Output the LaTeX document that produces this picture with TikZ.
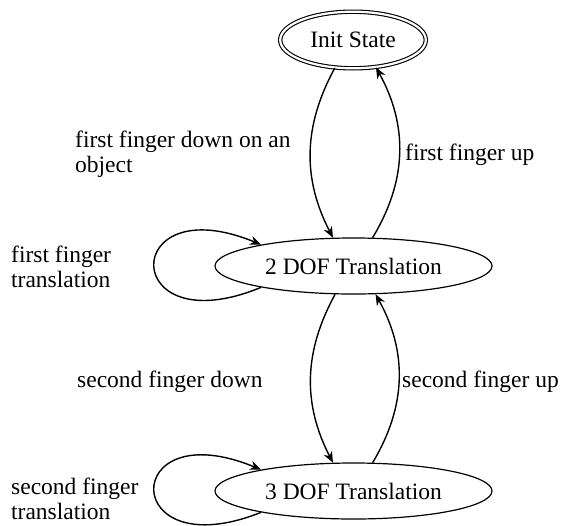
\documentclass[tikz,border=0pt]{standalone}
\usepackage{fontspec}
\setmainfont{Liberation Serif}
\newfontfamily\tnr{Liberation Serif}
\usetikzlibrary{shapes.geometric,arrows.meta,calc}
\begin{document}
\begin{tikzpicture}[x=1pt,y=-1pt,
  every node/.style={font=\tnr\fontsize{23.5}{25}\selectfont},
  statebox/.style={draw, ellipse, line width=1.2pt, inner sep=0pt, minimum width=277pt, minimum height=56pt},
  initbox/.style={draw, ellipse, line width=1.1pt, double, double distance=2.2pt, inner sep=0pt, minimum width=145.6pt, minimum height=56.6pt},
  lbl/.style={anchor=base west, align=left, inner sep=0pt},
  edge/.style={line width=1.4pt, -{Stealth[length=11pt,width=9pt,inset=3.5pt]}}]
\useasboundingbox (0,0) rectangle (564,525);
\node[initbox] (init) at (353,40) {Init State};
\node[statebox] (two) at (353.5,266) {2 DOF Translation};
\node[statebox] (three) at (353.5,491) {3 DOF Translation};

\draw[edge] (init.-123.3) to[bend right=28] (two.126.5);
\draw[edge] (two.56.3) to[bend right=30] (init.-50.8);
\draw[edge] (two.-123.7) to[bend right=28] (three.126.5);
\draw[edge] (three.56.3) to[bend right=30] (two.-52.1);

\draw[edge] (two.193.7) .. controls ($(two.center)+(-234.5,80)$) and ($(two.center)+(-234.5,-80)$) .. (two.167.1);
\draw[edge] (three.193.7) .. controls ($(three.center)+(-234.5,78)$) and ($(three.center)+(-234.5,-80)$) .. (three.167.1);

\node[lbl] (l1) at (75,172) {first finger down on an\\object};
\node[lbl] (l2) at (405,160) {first finger up};
\node[lbl] (l3) at (11,287) {first finger\\translation};
\node[lbl] (l4) at (77,387) {second finger down};
\node[lbl] (l5) at (402,387) {second finger up};
\node[lbl] (l6) at (11,519) {second finger\\translation};
\end{tikzpicture}
\end{document}
